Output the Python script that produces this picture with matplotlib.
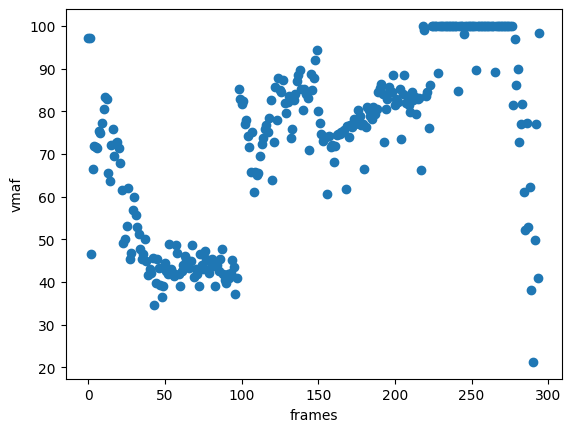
#!/usr/bin/env python3
"""vmaf score per frame, scatter."""
import matplotlib; matplotlib.use("Agg")
import matplotlib.pyplot as plt

# vmaf per frame
vmaf = [
    97.2, 97.2, 46.5, 66.4, 71.9, 71.6, 71.4, 75.3, 74.9, 77.2,
    80.6, 83.4, 83.0, 65.6, 63.7, 72.0, 75.8, 69.6, 72.6, 72.9,
    71.3, 68.0, 61.6, 49.2, 50.1, 53.2, 62.1, 45.5, 46.8, 57.0,
    60.0, 55.8, 52.8, 51.2, 47.7, 45.3, 46.6, 50.0, 44.9, 41.6,
    43.1, 42.1, 45.6, 34.6, 39.8, 45.3, 43.4, 39.4, 36.6, 39.2,
    44.5, 42.5, 41.8, 49.0, 43.0, 42.2, 41.4, 48.8, 46.7, 42.0,
    39.1, 42.6, 44.1, 46.1, 45.5, 44.8, 43.3, 44.9, 48.6, 41.2,
    43.0, 41.9, 39.0, 46.5, 44.1, 43.0, 47.3, 45.3, 42.8, 42.2,
    44.5, 45.3, 43.7, 39.0, 44.1, 42.5, 45.3, 47.8, 41.8, 40.6,
    39.9, 42.0, 41.0, 42.2, 45.1, 43.6, 37.1, 41.0, 85.3, 83.0,
    81.8, 82.3, 77.1, 77.9, 74.3, 71.6, 65.7, 75.1, 61.2, 65.8,
    65.1, 65.5, 69.6, 72.4, 73.7, 75.9, 76.7, 75.1, 78.4, 82.6,
    64.0, 72.9, 85.7, 78.0, 87.7, 84.9, 84.5, 87.3, 82.0, 79.7,
    82.2, 83.7, 73.7, 75.9, 82.6, 84.1, 87.0, 88.4, 89.6, 85.3,
    80.4, 85.3, 84.0, 83.1, 70.9, 88.8, 84.9, 87.7, 92.1, 94.4,
    80.0, 77.3, 74.7, 73.0, 74.0, 73.9, 60.6, 74.3, 71.7, 72.0,
    68.1, 71.8, 74.5, 74.6, 74.8, 75.1, 75.2, 75.6, 61.9, 76.5,
    73.9, 76.8, 76.3, 78.3, 77.1, 77.5, 80.3, 79.0, 76.7, 77.1,
    66.4, 76.4, 81.0, 80.2, 79.0, 78.3, 81.0, 79.4, 80.6, 84.5,
    85.5, 86.5, 84.1, 72.8, 80.6, 83.0, 85.7, 84.8, 84.5, 88.6,
    81.4, 83.0, 82.2, 85.3, 73.6, 84.1, 88.6, 82.0, 83.5, 81.4,
    79.8, 84.5, 82.6, 83.4, 79.4, 83.0, 83.2, 66.2, 100.0, 99.0,
    83.5, 84.6, 76.2, 86.2, 100.0, 100.0, 100.0, 100.0, 88.9, 100.0,
    100.0, 100.0, 100.0, 100.0, 100.0, 100.0, 100.0, 100.0, 100.0, 100.0,
    100.0, 84.8, 100.0, 100.0, 100.0, 98.2, 100.0, 100.0, 100.0, 100.0,
    100.0, 100.0, 100.0, 89.6, 100.0, 100.0, 100.0, 100.0, 100.0, 100.0,
    100.0, 100.0, 100.0, 100.0, 100.0, 89.3, 100.0, 100.0, 100.0, 100.0,
    100.0, 100.0, 100.0, 100.0, 100.0, 100.0, 100.0, 81.4, 96.9, 86.1,
    89.8, 72.9, 77.0, 81.7, 61.0, 52.3, 77.2, 52.8, 62.2, 38.2,
    21.3, 49.9, 77.1, 41.0, 98.3,
]
frames = list(range(len(vmaf)))

fig, ax = plt.subplots()
ax.scatter(frames, vmaf)
ax.set_xlabel("frames")
ax.set_ylabel("vmaf")
fig.savefig("out.png", dpi=100, bbox_inches="tight")
